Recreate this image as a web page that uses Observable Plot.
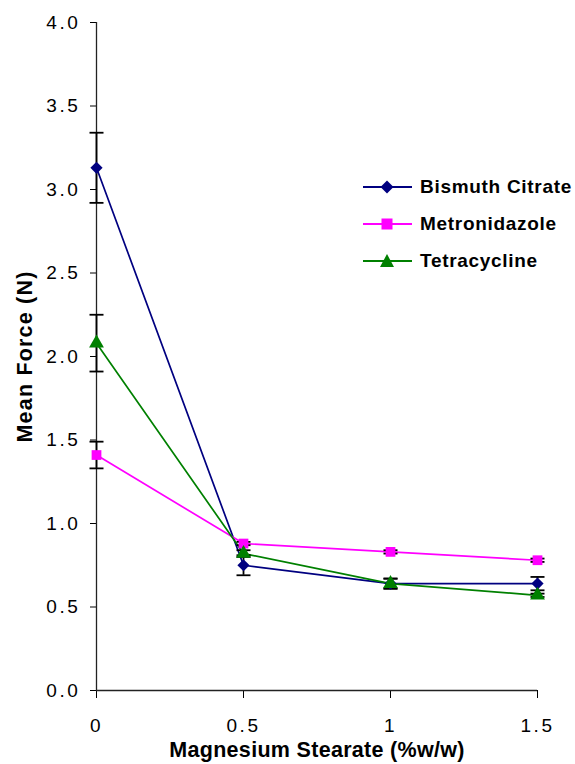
<!DOCTYPE html>
<html><head><meta charset="utf-8">
<script src="https://cdn.jsdelivr.net/npm/d3@7"></script>
<script src="https://cdn.jsdelivr.net/npm/@observablehq/plot@0.6"></script>
<style>
html,body{margin:0;padding:0;background:#fff;}
#wrap{position:relative;width:575px;height:764px;font-family:"Liberation Sans",Arial,sans-serif;}
#chart svg{font-family:"Liberation Sans",Arial,sans-serif;}
g[aria-label="x-axis tick label"] text, g[aria-label="y-axis tick label"] text{font-size:19px;fill:#000;letter-spacing:2.6px;}
g[aria-label="x-axis label"] text{font-size:21.5px;font-weight:bold;fill:#000;letter-spacing:0.3px;}
g[aria-label="y-axis label"] text{font-size:21.5px;font-weight:bold;fill:#000;letter-spacing:1.2px;}
#legend{position:absolute;left:363px;top:168px;font-weight:bold;font-size:19px;color:#000;letter-spacing:0.7px;}
#legend .row{display:flex;align-items:center;height:37px;}
#legend span{margin-left:7px;}
</style>
</head><body>
<div id="wrap"><div id="chart"></div><div id="legend"></div></div>
<script>
const seriesNames = ["Bismuth Citrate", "Metronidazole", "Tetracycline"];
const colors = ["#000080", "#FF00FF", "#008000"];
const symbols = ["diamond2", "square", "triangle"];
const magnesium = [0, 0.5, 1, 1.5];
const bismuth = [3.13, 0.75, 0.64, 0.64];
const bismuthErr = [0.21, 0.06, 0.03, 0.04];
const metro = [1.41, 0.88, 0.83, 0.78];
const metroErr = [0.08, 0.01, 0.01, 0.01];
const tetra = [2.08, 0.82, 0.64, 0.57];
const tetraErr = [0.17, 0.02, 0.03, 0.01];
const yTicks = [0, 0.5, 1, 1.5, 2, 2.5, 3, 3.5, 4];

const vals = [bismuth, metro, tetra];
const errs = [bismuthErr, metroErr, tetraErr];
const data = [];
seriesNames.forEach((s, i) => magnesium.forEach((m, j) =>
  data.push({series: s, x: m, y: vals[i][j], lo: vals[i][j] - errs[i][j], hi: vals[i][j] + errs[i][j]})));

const capSymbol = {draw(ctx, size){ const r = Math.sqrt(size / Math.PI); ctx.moveTo(-r, 0); ctx.lineTo(r, 0); }};

const chart = Plot.plot({
  width: 575, height: 764,
  marginLeft: 96, marginRight: 38, marginTop: 22, marginBottom: 74,
  x: {domain: [0, 1.5], ticks: magnesium, tickFormat: d => String(d), tickSize: 8, tickPadding: 20,
      label: "Magnesium Stearate (%w/w)", labelAnchor: "center", labelOffset: 66, labelArrow: "none"},
  y: {domain: [0, 4], ticks: yTicks, tickFormat: d3.format(".1f"), tickSize: 6, tickPadding: 10,
      label: "Mean Force (N)", labelAnchor: "center", labelOffset: 80, labelArrow: "none"},
  color: {domain: seriesNames, range: colors},
  symbol: {domain: seriesNames, range: symbols},
  marks: [
    Plot.ruleY([0], {stroke: "#222", strokeWidth: 1.3}),
    Plot.ruleX([0], {y1: 0, y2: 4, stroke: "#222", strokeWidth: 1.3}),
    Plot.line(data, {x: "x", y: "y", z: "series", stroke: "series", strokeWidth: 1.7}),
    Plot.ruleX(data, {x: "x", y1: "lo", y2: "hi", stroke: "#000", strokeWidth: 1.8}),
    Plot.dot(data, {x: "x", y: "lo", symbol: () => capSymbol, r: 7, stroke: "#000", strokeWidth: 1.8}),
    Plot.dot(data, {x: "x", y: "hi", symbol: () => capSymbol, r: 7, stroke: "#000", strokeWidth: 1.8}),
    Plot.dot(data, {x: "x", y: "y", fill: "series", symbol: "series", r: 5.5, stroke: "none"})
  ]
});
document.getElementById("chart").appendChild(chart);

// legend
const leg = document.getElementById("legend");
const shapes = {
  "diamond2": '<path d="M24,2.5 L30.5,9 L24,15.5 L17.5,9 Z"/>',
  "square": '<rect x="18.5" y="3.5" width="11" height="11"/>',
  "triangle": '<path d="M24,2 L31,15 L17,15 Z"/>'
};
seriesNames.forEach((s, i) => {
  const row = document.createElement("div");
  row.className = "row";
  row.innerHTML = `<svg width="50" height="18"><line x1="0" x2="49" y1="9" y2="9" stroke="${colors[i]}" stroke-width="2.2"/><g fill="${colors[i]}">${shapes[symbols[i]]}</g></svg><span>${s}</span>`;
  leg.appendChild(row);
});
</script>
</body></html>
